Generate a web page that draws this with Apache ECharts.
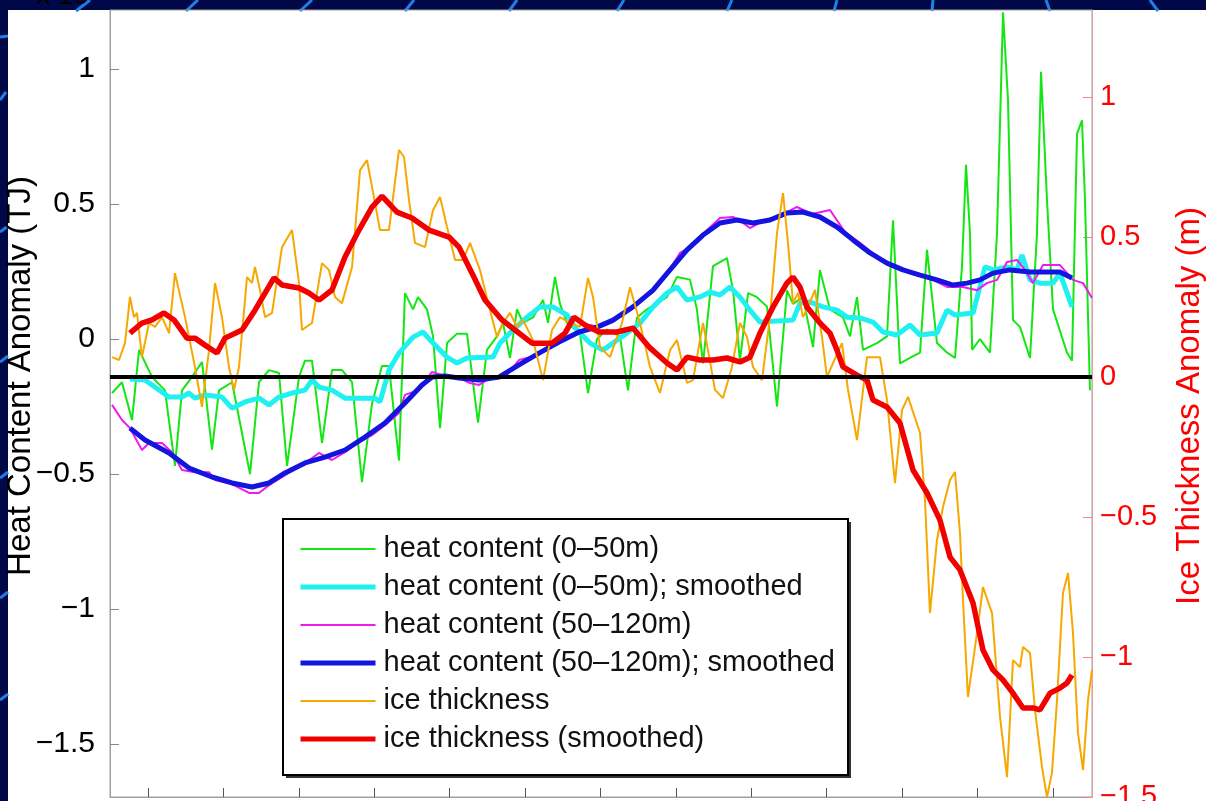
<!DOCTYPE html>
<html>
<head>
<meta charset="utf-8">
<title>Heat content and ice thickness anomaly</title>
<script src="https://cdn.jsdelivr.net/npm/echarts@6/dist/echarts.min.js"></script>
<style>
  html, body { margin: 0; padding: 0; background: #000848; }
  #chart { width: 1206px; height: 801px; }
</style>
</head>
<body>
<div id="chart"></div>
<script>
// x is in tick units (one bottom tick per step)
const xTicks = [0, 1, 2, 3, 4, 5, 6, 7, 8, 9, 10, 11, 12]
const heatTicks = [-1.5, -1, -0.5, 0, 0.5, 1]
const iceTicks = [-1.5, -1, -0.5, 0, 0.5, 1]

// heat content (0-50m), raw
const greenT = [-0.477,-0.345,-0.212,-0.119,0.053,0.225,0.358,0.451,0.584,0.716,0.849,0.942,1.114,1.353,1.472,1.605,1.737,1.844,2.003,2.082,2.175,2.308,2.44,2.573,2.706,2.838,2.971,3.103,3.196,3.329,3.408,3.515,3.581,3.7,3.78,3.873,3.966,4.098,4.231,4.377,4.496,4.629,4.708,4.801,4.894,4.973,5.106,5.239,5.305,5.398,5.464,5.557,5.729,5.836,5.955,6.088,6.26,6.366,6.485,6.618,6.883,7.016,7.188,7.28,7.361,7.493,7.679,7.759,7.851,7.958,8.077,8.21,8.342,8.475,8.554,8.687,8.82,8.912,9.045,9.218,9.31,9.403,9.483,9.668,9.801,9.881,9.973,10.106,10.239,10.332,10.464,10.597,10.703,10.796,10.849,10.902,10.93,11.034,11.167,11.26,11.34,11.406,11.472,11.565,11.698,11.79,11.844,11.923,12.003,12.188,12.255,12.321,12.387,12.427,12.493]
const greenHeat = [-0.2,-0.16,-0.3,-0.04,-0.14,-0.19,-0.47,-0.19,-0.14,-0.085,-0.41,-0.19,-0.16,-0.5,-0.16,-0.115,-0.126,-0.47,-0.14,-0.08,-0.08,-0.385,-0.115,-0.115,-0.16,-0.53,-0.24,-0.1,-0.1,-0.45,0.17,0.11,0.155,0.11,0.01,-0.33,-0.015,0.02,0.02,-0.31,-0.04,0.01,0.06,-0.07,0.11,0.06,0.08,0.145,0.06,0.23,0.13,0.06,0.02,-0.2,0,0.035,0.01,-0.19,0.08,0.11,0.155,0.23,0.22,0.11,-0.09,0.27,0.3,0.18,-0.08,0.17,0.155,0.12,-0.25,0.18,0.13,0.155,-0.03,0.255,0.11,0.08,0.01,0.155,-0.04,-0.015,0.01,0.44,-0.09,-0.07,-0.05,0.33,-0.015,-0.05,-0.07,0.27,0.645,0.39,-0.04,0,-0.05,0.39,1.21,0.885,0.07,0.045,-0.07,0.39,0.99,0.515,0.11,-0.05,-0.08,0.76,0.81,0.515,-0.19]

// heat content (0-50m), smoothed
const cyanT = [-0.239,-0.04,0.146,0.279,0.451,0.544,0.623,0.756,0.981,1.114,1.286,1.472,1.605,1.737,1.91,2.082,2.175,2.268,2.44,2.613,3.011,3.077,3.196,3.329,3.515,3.647,3.78,3.966,4.098,4.231,4.576,4.668,4.841,5.027,5.199,5.371,5.557,5.69,5.862,6.034,6.167,6.353,6.525,6.698,6.883,7.016,7.149,7.321,7.454,7.586,7.719,7.851,7.984,8.117,8.554,8.647,8.78,8.952,9.138,9.271,9.443,9.615,9.748,9.934,10.106,10.239,10.464,10.597,10.703,10.942,11.101,11.207,11.393,11.525,11.592,11.698,11.83,12.003,12.095,12.255]
const cyanHeat = [-0.148,-0.152,-0.189,-0.215,-0.215,-0.2,-0.219,-0.207,-0.215,-0.256,-0.233,-0.219,-0.244,-0.215,-0.2,-0.189,-0.152,-0.178,-0.189,-0.219,-0.219,-0.233,-0.115,-0.052,0.007,0.026,-0.015,-0.067,-0.089,-0.07,-0.067,-0.015,0.033,0.081,0.119,0.119,0.089,0.033,-0.015,-0.041,-0.015,0.022,0.059,0.119,0.17,0.193,0.144,0.156,0.174,0.163,0.193,0.156,0.107,0.063,0.07,0.133,0.137,0.119,0.107,0.081,0.078,0.063,0.026,0.015,0.052,0.015,0.022,0.107,0.089,0.096,0.267,0.256,0.267,0.256,0.311,0.219,0.207,0.207,0.244,0.119]

// heat content (50-120m), raw
const magT = [-0.477,-0.345,-0.239,-0.08,0.013,0.186,0.318,0.451,0.623,0.809,0.889,1.114,1.34,1.472,1.605,1.817,2.016,2.175,2.268,2.44,2.613,2.785,2.971,3.143,3.329,3.408,3.581,3.767,3.939,4.125,4.271,4.39,4.536,4.735,4.92,5.133,5.358,5.531,5.729,5.862,5.995,6.167,6.366,6.525,6.698,6.857,7.056,7.228,7.387,7.586,7.759,7.878,7.984,8.183,8.382,8.607,8.806,9.045,9.244,9.443,9.642,9.881,10.106,10.305,10.597,10.809,10.995,11.127,11.26,11.393,11.525,11.631,11.737,11.87,12.095,12.268,12.401,12.52]
const magHeat = [-0.244,-0.3,-0.33,-0.411,-0.385,-0.385,-0.419,-0.485,-0.493,-0.493,-0.522,-0.537,-0.57,-0.57,-0.541,-0.504,-0.47,-0.441,-0.422,-0.448,-0.419,-0.385,-0.356,-0.319,-0.274,-0.207,-0.189,-0.122,-0.137,-0.144,-0.163,-0.17,-0.144,-0.141,-0.078,-0.063,-0.019,-0.004,0.022,0.052,0.044,0.063,0.107,0.144,0.174,0.23,0.319,0.348,0.396,0.448,0.452,0.433,0.411,0.441,0.456,0.489,0.463,0.478,0.396,0.356,0.311,0.267,0.248,0.233,0.193,0.193,0.181,0.207,0.219,0.285,0.293,0.256,0.207,0.274,0.274,0.219,0.207,0.152]

// heat content (50-120m), smoothed
const blueT = [-0.239,-0.04,0.279,0.544,0.849,1.114,1.379,1.605,1.817,2.082,2.347,2.613,2.878,3.143,3.408,3.634,3.767,3.939,4.125,4.39,4.655,4.92,5.186,5.451,5.716,5.955,6.167,6.432,6.698,6.923,7.149,7.361,7.586,7.812,8.024,8.249,8.475,8.687,8.912,9.138,9.35,9.576,9.801,10.013,10.239,10.464,10.676,10.862,11.034,11.207,11.432,11.698,11.923,12.095,12.255]
const blueHeat = [-0.33,-0.374,-0.422,-0.478,-0.511,-0.533,-0.548,-0.533,-0.496,-0.459,-0.437,-0.411,-0.363,-0.311,-0.237,-0.17,-0.141,-0.137,-0.144,-0.152,-0.141,-0.096,-0.052,-0.011,0.026,0.044,0.07,0.119,0.181,0.256,0.33,0.385,0.43,0.441,0.43,0.441,0.467,0.47,0.452,0.415,0.367,0.319,0.281,0.256,0.237,0.219,0.2,0.207,0.219,0.244,0.256,0.248,0.248,0.248,0.226]

// ice thickness, raw
const iceT = [-0.477,-0.385,-0.305,-0.239,-0.186,-0.146,-0.08,0.013,0.093,0.186,0.279,0.358,0.491,0.623,0.716,0.809,0.889,0.981,1.074,1.141,1.207,1.313,1.379,1.419,1.485,1.552,1.645,1.777,1.91,2.003,2.042,2.175,2.308,2.401,2.48,2.573,2.706,2.812,2.905,3.011,3.077,3.196,3.329,3.395,3.462,3.541,3.674,3.78,3.873,3.966,4.072,4.178,4.271,4.403,4.536,4.629,4.708,4.801,4.894,4.973,5.106,5.239,5.358,5.464,5.597,5.729,5.836,5.902,5.995,6.127,6.286,6.393,6.525,6.658,6.79,6.923,7.016,7.149,7.228,7.361,7.427,7.52,7.626,7.745,7.851,7.944,8.024,8.143,8.249,8.342,8.422,8.488,8.554,8.621,8.687,8.753,8.846,8.939,9.005,9.085,9.204,9.284,9.403,9.536,9.708,9.801,9.907,10,10.08,10.239,10.305,10.371,10.464,10.544,10.637,10.703,10.769,10.809,10.875,10.995,11.074,11.194,11.3,11.393,11.472,11.565,11.605,11.698,11.764,11.857,11.923,11.989,12.056,12.135,12.202,12.268,12.334,12.401,12.467,12.52]
const iceRaw = [0.071,0.061,0.121,0.286,0.214,0.229,0.071,0.193,0.179,0.214,0.157,0.371,0.214,0.036,-0.107,0.096,0.336,0.214,0.036,-0.046,0.036,0.357,0.336,0.393,0.311,0.214,0.229,0.464,0.525,0.336,0.168,0.193,0.407,0.382,0.286,0.264,0.393,0.739,0.775,0.621,0.525,0.525,0.811,0.786,0.632,0.479,0.464,0.596,0.643,0.536,0.418,0.418,0.479,0.382,0.239,0.143,0.193,0.229,0.179,0.204,0.132,-0.011,0.168,0.214,0.193,0.179,0.354,0.286,0.107,0.071,0.193,0.321,0.193,0.036,-0.057,0.096,0.132,-0.021,-0.011,0.193,0.096,-0.046,-0.075,0.036,0.193,0.143,0.036,-0.011,0.214,0.514,0.657,0.479,0.264,0.3,0.214,0.25,0.311,0.143,0,0.05,0.121,-0.046,-0.225,0.071,0.071,-0.082,-0.379,-0.118,-0.071,-0.2,-0.439,-0.843,-0.582,-0.464,-0.368,-0.339,-0.557,-0.796,-1.143,-0.914,-0.75,-0.843,-1.214,-1.429,-1.011,-1.036,-0.964,-0.986,-1.189,-1.393,-1.5,-1.414,-1.154,-0.771,-0.7,-0.914,-1.271,-1.404,-1.154,-1.046]

// ice thickness, smoothed
const redT = [-0.239,-0.08,0.053,0.212,0.345,0.517,0.623,0.756,0.915,1.021,1.247,1.419,1.671,1.777,2.003,2.135,2.268,2.44,2.613,2.798,2.971,3.103,3.302,3.501,3.727,3.992,4.125,4.297,4.469,4.695,4.867,5.093,5.358,5.531,5.65,5.796,5.981,6.22,6.432,6.658,6.883,7.016,7.149,7.321,7.493,7.679,7.851,7.984,8.117,8.289,8.475,8.554,8.647,8.74,8.912,9.045,9.138,9.218,9.403,9.536,9.615,9.801,9.973,10.146,10.332,10.504,10.637,10.769,10.942,11.074,11.207,11.34,11.472,11.605,11.737,11.83,11.963,12.095,12.188,12.255]
const iceSmooth = [0.157,0.193,0.204,0.229,0.204,0.139,0.139,0.114,0.086,0.139,0.168,0.239,0.354,0.329,0.318,0.3,0.275,0.311,0.429,0.525,0.607,0.646,0.589,0.568,0.525,0.5,0.464,0.371,0.275,0.204,0.168,0.121,0.121,0.157,0.214,0.186,0.161,0.161,0.175,0.104,0.05,0.025,0.071,0.061,0.061,0.068,0.054,0.071,0.157,0.25,0.336,0.357,0.321,0.25,0.193,0.157,0.096,0.036,0.007,-0.011,-0.082,-0.107,-0.164,-0.332,-0.414,-0.511,-0.643,-0.689,-0.807,-0.975,-1.046,-1.082,-1.129,-1.182,-1.182,-1.189,-1.129,-1.111,-1.093,-1.064]

const FONT = '"Liberation Sans", Arial, sans-serif'
const THIN = 2
const THICK = 5

function zip(t, v) {
  return t.map((x, i) => [x, v[i]])
}

function minusSign(v) {
  return String(v).replace('-', '\u2212')
}

function lineSeries(name, t, v, color, width, axis) {
  return {
    name: name,
    type: 'line',
    yAxisIndex: axis,
    data: zip(t, v),
    symbol: 'none',
    showSymbol: false,
    lineStyle: { color: color, width: width },
    itemStyle: { color: color },
    emphasis: { disabled: true },
    z: 2
  }
}

function legendItem(name, width) {
  return { name: name, lineStyle: { width: width } }
}

const chart = echarts.init(document.getElementById('chart'), null, { renderer: 'canvas' })

// slide decoration: bits of the blue arcs in the dark border
const arcBits = [
  [76, 11, 90, 0], [186, 11, 198, 0], [300, 11, 312, 0], [405, 11, 414, 0],
  [509, 11, 517, 0], [617, 11, 624, 0], [727, 11, 732, 0], [834, 11, 837, 0],
  [932, 11, 933, 0], [1046, 0, 1050, 11], [1150, 0, 1158, 11],
  [0, 37, 8, 36], [0, 100, 6, 92], [0, 232, 8, 226], [0, 362, 8, 356],
  [0, 478, 8, 472], [0, 598, 8, 592], [0, 700, 8, 694]
]

const option = {
  animation: false,
  backgroundColor: '#000848',
  graphic: [
    {
      type: 'rect', z: -10, silent: true,
      shape: { x: 8, y: 10, width: 1198, height: 791 },
      style: { fill: '#ffffff' }
    },
    ...arcBits.map(b => ({
      type: 'line', z: -5, silent: true,
      shape: { x1: b[0], y1: b[1], x2: b[2], y2: b[3] },
      style: { stroke: '#1f7fe6', lineWidth: 3 }
    })),
    {
      type: 'text', z: -5, silent: true, x: 36, y: -18,
      style: { text: 'x 10', fill: '#000', font: '28px ' + FONT }
    },
    {
      type: 'text', silent: true, x: 21, y: 376, rotation: Math.PI / 2,
      style: {
        text: 'Heat Content Anomaly (TJ)', fill: '#000',
        font: '33px ' + FONT, textAlign: 'center', textVerticalAlign: 'middle'
      }
    },
    {
      type: 'text', silent: true, x: 1190, y: 406, rotation: Math.PI / 2,
      style: {
        text: 'Ice Thickness Anomaly (m)', fill: '#ff0000',
        font: '33px ' + FONT, textAlign: 'center', textVerticalAlign: 'middle'
      }
    },
    // legend box: dark drop shadow, then the framed white box
    {
      type: 'rect', z: 4, silent: true,
      shape: { x: 286, y: 522, width: 565, height: 256 },
      style: { fill: '#333333' }
    },
    {
      type: 'rect', z: 5, silent: true,
      shape: { x: 283, y: 519, width: 565, height: 256 },
      style: { fill: '#ffffff', stroke: '#000', lineWidth: 2 }
    }
  ],
  grid: {
    left: 110, right: 114, top: 10, bottom: 4,
    outerBoundsMode: 'none',
    show: true, borderColor: '#a0a0a0', borderWidth: 1, backgroundColor: 'transparent'
  },
  legend: {
    z: 10,
    orient: 'vertical',
    left: 298, top: 534,
    padding: 0,
    itemWidth: 75, itemHeight: 14, itemGap: 8,
    selectedMode: false,
    itemStyle: { opacity: 0 },
    textStyle: { fontSize: 29, fontFamily: FONT, color: '#111', lineHeight: 30, padding: [0, 0, 0, 3] },
    data: [
      legendItem('heat content (0\u201350m)', THIN),
      legendItem('heat content (0\u201350m); smoothed', THICK),
      legendItem('heat content (50\u2013120m)', THIN),
      legendItem('heat content (50\u2013120m); smoothed', THICK),
      legendItem('ice thickness', THIN),
      legendItem('ice thickness (smoothed)', THICK)
    ]
  },
  xAxis: {
    type: 'value',
    min: -0.504, max: 12.52,
    axisLine: { show: true, onZero: false, lineStyle: { color: '#a0a0a0' } },
    axisTick: { show: true, inside: true, length: 9, customValues: xTicks, lineStyle: { color: '#555' } },
    axisLabel: { show: false },
    splitLine: { show: false }
  },
  yAxis: [
    {
      type: 'value',
      position: 'left',
      min: -1.696, max: 1.2185,
      axisLine: { show: true, onZero: false, lineStyle: { color: '#a0a0a0' } },
      axisTick: { show: true, inside: true, length: 9, customValues: heatTicks, lineStyle: { color: '#888' } },
      axisLabel: {
        customValues: heatTicks, formatter: minusSign, margin: 15,
        color: '#000', fontSize: 30, fontFamily: FONT
      },
      splitLine: { show: false }
    },
    {
      type: 'value',
      position: 'right',
      min: -1.5, max: 1.311,
      axisLine: { show: true, onZero: false, lineStyle: { color: '#e0a0a0' } },
      axisTick: { show: true, inside: true, length: 9, customValues: iceTicks, lineStyle: { color: '#e08a8a' } },
      axisLabel: {
        customValues: iceTicks, formatter: minusSign, margin: 8,
        color: '#ff0000', fontSize: 29, fontFamily: FONT
      },
      splitLine: { show: false }
    }
  ],
  series: [
    lineSeries('heat content (0\u201350m)', greenT, greenHeat, '#14e614', THIN, 0),
    lineSeries('heat content (0\u201350m); smoothed', cyanT, cyanHeat, '#1ff0f0', THICK, 0),
    lineSeries('heat content (50\u2013120m)', magT, magHeat, '#ee1aee', THIN, 0),
    lineSeries('heat content (50\u2013120m); smoothed', blueT, blueHeat, '#1414e0', THICK, 0),
    lineSeries('ice thickness', iceT, iceRaw, '#f7a800', THIN, 1),
    Object.assign(lineSeries('ice thickness (smoothed)', redT, iceSmooth, '#f20000', 5.5, 1), {
      markLine: {
        silent: true,
        symbol: 'none',
        label: { show: false },
        lineStyle: { color: '#000', width: 4, type: 'solid' },
        emphasis: { disabled: true },
        data: [{ yAxis: 0 }]
      }
    })
  ]
}

chart.setOption(option)
</script>
</body>
</html>
